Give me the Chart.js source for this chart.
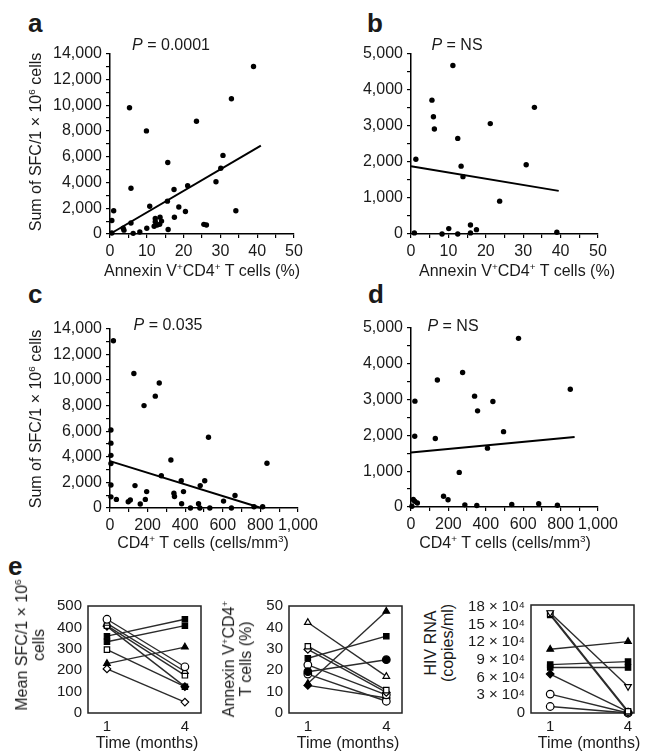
<!DOCTYPE html>
<html>
<head>
<meta charset="utf-8">
<script src="https://cdn.jsdelivr.net/npm/chart.js@4.4.1/dist/chart.umd.min.js"></script>
<style>
  body { margin: 0; background: #fff; }
  #fig { position: relative; width: 650px; height: 753px; overflow: hidden;
         font-family: "Liberation Sans", Arial, sans-serif; color: #1a1a1a; }
  #fig canvas { position: absolute; }
  .t { position: absolute; white-space: nowrap; font-size: 16px; line-height: 1.15;
       text-align: center; transform: translate(-50%, -50%); }
  .r { transform: translate(-50%, -50%) rotate(-90deg); line-height: 1.06; }
  .lab { position: absolute; font-weight: bold; font-size: 26px; line-height: 1; }
  sup { font-size: 0.62em; vertical-align: 0.6em; line-height: 0; }
</style>
</head>
<body>
<div id="fig">
  <canvas id="chartA"></canvas>
  <canvas id="chartB"></canvas>
  <canvas id="chartC"></canvas>
  <canvas id="chartD"></canvas>
  <canvas id="chartE1"></canvas>
  <canvas id="chartE2"></canvas>
  <canvas id="chartE3"></canvas>

  <div class="lab" style="left:28px;top:10px">a</div>
  <div class="lab" style="left:367px;top:10px">b</div>
  <div class="lab" style="left:28px;top:281px">c</div>
  <div class="lab" style="left:368px;top:281px">d</div>
  <div class="lab" style="left:8px;top:553px">e</div>

  <div class="t" style="left:171px;top:45px"><i>P</i> = 0.0001</div>
  <div class="t" style="left:457px;top:45px"><i>P</i> = NS</div>
  <div class="t" style="left:168px;top:325px"><i>P</i> = 0.035</div>
  <div class="t" style="left:453px;top:326px"><i>P</i> = NS</div>

  <div class="t r" style="left:36px;top:142px">Sum of SFC/1 × 10<sup>6</sup> cells</div>
  <div class="t r" style="left:36px;top:419px">Sum of SFC/1 × 10<sup>6</sup> cells</div>
  <div class="t" style="left:202px;top:271px">Annexin V<sup>+</sup>CD4<sup>+</sup> T cells (%)</div>
  <div class="t" style="left:517px;top:271px">Annexin V<sup>+</sup>CD4<sup>+</sup> T cells (%)</div>
  <div class="t" style="left:203px;top:543px">CD4<sup>+</sup> T cells (cells/mm<sup>3</sup>)</div>
  <div class="t" style="left:505px;top:543px">CD4<sup>+</sup> T cells (cells/mm<sup>3</sup>)</div>

  <div class="t r" style="left:31px;top:645px">Mean SFC/1 × 10<sup>6</sup><br>cells</div>
  <div class="t r" style="left:238px;top:659px">Annexin V<sup>+</sup>CD4<sup>+</sup><br>T cells (%)</div>
  <div class="t r" style="left:440px;top:643px">HIV RNA<br>(copies/ml)</div>
  <div class="t" style="left:147px;top:743px">Time (months)</div>
  <div class="t" style="left:348px;top:743px">Time (months)</div>
  <div class="t" style="left:589px;top:743px">Time (months)</div>
</div>

<script>
// a: SFC vs annexin V+ CD4+ T cells
const annexA = [39, 33, 5.3, 23.5, 9.9, 30.7, 30.1, 15.7, 28.8, 21.1, 17.4, 5.7, 15.6, 10.8, 18.7, 20.5,
                34.2, 1.0, 17.5, 12.3, 13.6, 12.3, 12.8, 13.5, 25.5, 26.2, 0.5, 5.7, 3.6, 3.8, 10.0, 15.8,
                8.1, 6.3, 0.5, 12, 14];
const sfcA = [13000, 10500, 9800, 8750, 8000, 6100, 5100, 5550, 4050, 3750, 3450, 3550, 2550, 2150, 2100, 1750,
              1800, 1800, 1300, 1200, 1300, 950, 700, 750, 750, 700, 1050, 850, 450, 300, 450, 350,
              150, 50, 80, 600, 1000];
const fitAX = [0, 41];
const fitAY = [0, 6850];

// b
const annexB = [11.2, 5.6, 6.0, 6.25, 33.0, 21.2, 12.5, 1.3, 13.4, 13.9, 30.8, 23.7, 10.1, 15.9, 17.5, 39.0, 0.9, 8.3, 12.5, 15.9];
const sfcB = [4670, 3710, 3250, 2910, 3510, 3060, 2650, 2070, 1880, 1590, 1920, 910, 150, 250, 120, 50, 30, 0, 0, 30];
const fitBX = [0, 39.5];
const fitBY = [1880, 1195];

// c: SFC vs CD4+ count
const cd4C = [18, 127, 262, 241, 181, 5, 5, 524, 5, 324, 5, 835, 273, 379, 504, 5, 133, 480, 665, 195,
              391, 340, 343, 188, 108, 97, 34, 5, 161, 381, 471, 604, 766, 812, 428, 478, 531, 646];
const sfcC = [13050, 10500, 9760, 8730, 7990, 6090, 5060, 5520, 4110, 3750, 3470, 3490, 2520, 2130, 2130, 1800, 1750, 1750, 980, 1280,
              1280, 1160, 900, 670, 620, 490, 670, 870, 310, 330, 330, 540, 100, 100, 0, 0, 0, 0];
const fitCX = [0, 805];
const fitCY = [3660, 0];

// d
const cd4D = [575, 276, 141, 852, 340, 438, 21, 356, 495, 20, 130, 409, 258, 174, 198, 12, 20, 34, 288, 352, 539, 683, 783, 5];
const sfcD = [4700, 3750, 3540, 3280, 3090, 2940, 2950, 2680, 2100, 1970, 1910, 1640, 965, 300, 200, 210, 160, 110, 60, 40, 70, 90, 50, 20];
const fitDX = [0, 875];
const fitDY = [1517, 1950];

// e: paired values at month 1 and month 4
const months = [1, 4];
const sfcMonth1 = [438, 419, 408, 405, 359, 333, 296, 231, 206];
const sfcMonth4 = [216, 194, 176, 123, 438, 408, 123, 308, 51];
const annexMonth1 = [42.3, 13.8, 25.6, 19.3, 31.2, 29.7, 22.5, 18.2, 12.9];
const annexMonth4 = [17.1, 47.5, 35.9, 24.9, 10.7, 9.6, 8.5, 5.5, 7.0];
const rnaMonth1 = [170000, 168000, 166000, 108000, 82000, 77000, 66000, 32000, 11000];
const rnaMonth4 = [45000, 3000, 1000, 121000, 87000, 77000, 2000, 0, 0];
const sfcTicks = [0, 100, 200, 300, 400, 500];
const annexTicks = [0, 10, 20, 30, 40, 50];
const rnaTicks = [0, 30000, 60000, 90000, 120000, 150000, 180000];

// marker style per subject: [shape, filled, rotation]
const sfcMarks = [['circle', false], ['triangle', false], ['rect', false], ['rectRot', true], ['rect', true],
                  ['rect', true], ['rect', false], ['triangle', true], ['rectRot', false]];
const annexMarks = [['triangle', false], ['triangle', true], ['rect', true], ['circle', true], ['rect', false],
                    ['rectRot', false], ['circle', false], ['circle', false], ['rectRot', true]];
const rnaMarks = [['triangle', false, 180], ['rect', false], ['rect', false], ['triangle', true], ['rect', true],
                  ['rect', true], ['rectRot', true], ['circle', false], ['circle', false]];

const font = '"Liberation Sans", Arial, sans-serif';
const ink = '#1a1a1a';

function toPts(xs, ys) {
    return xs.map((x, i) => ({ x: x, y: ys[i] }));
}

// size and place a canvas so its chart area lands on the given box
function setBox(id, area, yW, xH, pad) {
    const c = document.getElementById(id);
    const w = area.r - area.l + yW + pad.l + pad.r;
    const h = area.b - area.t + xH + pad.t + pad.b;
    c.width = w;
    c.height = h;
    c.style.width = w + 'px';
    c.style.height = h + 'px';
    c.style.left = (area.l - yW - pad.l) + 'px';
    c.style.top = (area.t - pad.t) + 'px';
    return c;
}

function axis(max, step, every, fit) {
    return {
        type: 'linear', min: 0, max: max, afterFit: fit,
        ticks: {
            stepSize: step, autoSkip: false, maxRotation: 0, padding: 4, color: ink,
            font: { family: font, size: 16 },
            callback: v => v % every === 0 ? v.toLocaleString('en-US') : ''
        },
        grid: { drawOnChartArea: false, drawTicks: true, tickLength: 4, color: '#000', lineWidth: 1.2 },
        border: { display: true, color: '#000', width: 1.5 }
    };
}

function scatterPanel(id, area, xs, ys, fitX, fitY, xMax, xStep, xEvery, yMax, yStep, yEvery) {
    const pad = { l: 2, r: 24, t: 12, b: 2 };
    const yW = 64, xH = 30;
    const c = setBox(id, area, yW, xH, pad);
    new Chart(c, {
        type: 'scatter',
        data: {
            datasets: [
                { data: toPts(xs, ys), pointRadius: 2.7, pointBackgroundColor: '#000', pointBorderWidth: 0, clip: false },
                { data: toPts(fitX, fitY), showLine: true, borderColor: '#000', borderWidth: 2, pointRadius: 0, clip: false }
            ]
        },
        options: {
            responsive: false, animation: false, devicePixelRatio: 1,
            layout: { padding: { left: pad.l, right: pad.r, top: pad.t, bottom: pad.b } },
            plugins: { legend: { display: false }, tooltip: { enabled: false } },
            scales: {
                x: axis(xMax, xStep, xEvery, s => { s.height = xH; }),
                y: axis(yMax, yStep, yEvery, s => { s.width = yW; })
            }
        }
    });
}

// box around the paired plots
const frame = {
    id: 'frame',
    beforeDatasetsDraw(chart) {
        const a = chart.chartArea, ctx = chart.ctx;
        ctx.save();
        ctx.strokeStyle = '#222';
        ctx.lineWidth = 1.5;
        ctx.strokeRect(a.left, a.top, a.right - a.left, a.bottom - a.top);
        ctx.restore();
    }
};

function pairPanel(id, area, xMin, xMax, m1, m4, marks, yMax, yTicks, yFmt, yW) {
    const pad = { l: 2, r: 8, t: 10, b: 2 };
    const xH = 26;
    const c = setBox(id, area, yW, xH, pad);
    const datasets = m1.map((v, i) => ({
        data: toPts(months, [v, m4[i]]),
        showLine: true, borderColor: '#2b2b2b', borderWidth: 1.4,
        pointStyle: marks[i][0], pointRotation: marks[i][2] || 0, pointRadius: 3.8,
        pointBackgroundColor: marks[i][1] ? '#000' : '#fff', pointBorderColor: '#000', pointBorderWidth: 1.2,
        clip: false
    }));
    new Chart(c, {
        type: 'scatter',
        data: { datasets: datasets },
        options: {
            responsive: false, animation: false, devicePixelRatio: 1,
            layout: { padding: { left: pad.l, right: pad.r, top: pad.t, bottom: pad.b } },
            plugins: { legend: { display: false }, tooltip: { enabled: false } },
            scales: {
                x: {
                    type: 'linear', min: xMin, max: xMax,
                    afterBuildTicks: s => { s.ticks = months.map(v => ({ value: v })); },
                    afterFit: s => { s.height = xH; },
                    ticks: { padding: 5, autoSkip: false, maxRotation: 0, color: ink, font: { family: font, size: 15 } },
                    grid: { display: false, drawTicks: false },
                    border: { display: false }
                },
                y: {
                    type: 'linear', min: 0, max: yMax,
                    afterBuildTicks: s => { s.ticks = yTicks.map(v => ({ value: v })); },
                    afterFit: s => { s.width = yW; },
                    ticks: { padding: 6, autoSkip: false, color: ink, font: { family: font, size: 15 }, callback: yFmt },
                    grid: { display: false, drawTicks: false },
                    border: { display: false }
                }
            }
        },
        plugins: [frame]
    });
}

scatterPanel('chartA', { l: 110, t: 52, r: 294, b: 234 }, annexA, sfcA, fitAX, fitAY, 50, 5, 10, 14000, 1000, 2000);
scatterPanel('chartB', { l: 411, t: 52, r: 598, b: 234 }, annexB, sfcB, fitBX, fitBY, 50, 5, 10, 5000, 500, 1000);
scatterPanel('chartC', { l: 110, t: 327, r: 298, b: 508 }, cd4C, sfcC, fitCX, fitCY, 1000, 100, 200, 14000, 1000, 2000);
scatterPanel('chartD', { l: 411, t: 326, r: 598, b: 507 }, cd4D, sfcD, fitDX, fitDY, 1000, 100, 200, 5000, 500, 1000);

pairPanel('chartE1', { l: 88, t: 601, r: 201, b: 713 }, 0.27, 4.62, sfcMonth1, sfcMonth4, sfcMarks,
          500, sfcTicks, v => String(v), 50);
pairPanel('chartE2', { l: 289, t: 601, r: 402, b: 713 }, 0.28, 4.6, annexMonth1, annexMonth4, annexMarks,
          50, annexTicks, v => String(v), 40);
pairPanel('chartE3', { l: 531, t: 600, r: 634, b: 713 }, 0.26, 4.23, rnaMonth1, rnaMonth4, rnaMarks,
          183000, rnaTicks, v => v === 0 ? '0' : (v / 10000) + ' × 10⁴', 62);
</script>
</body>
</html>
